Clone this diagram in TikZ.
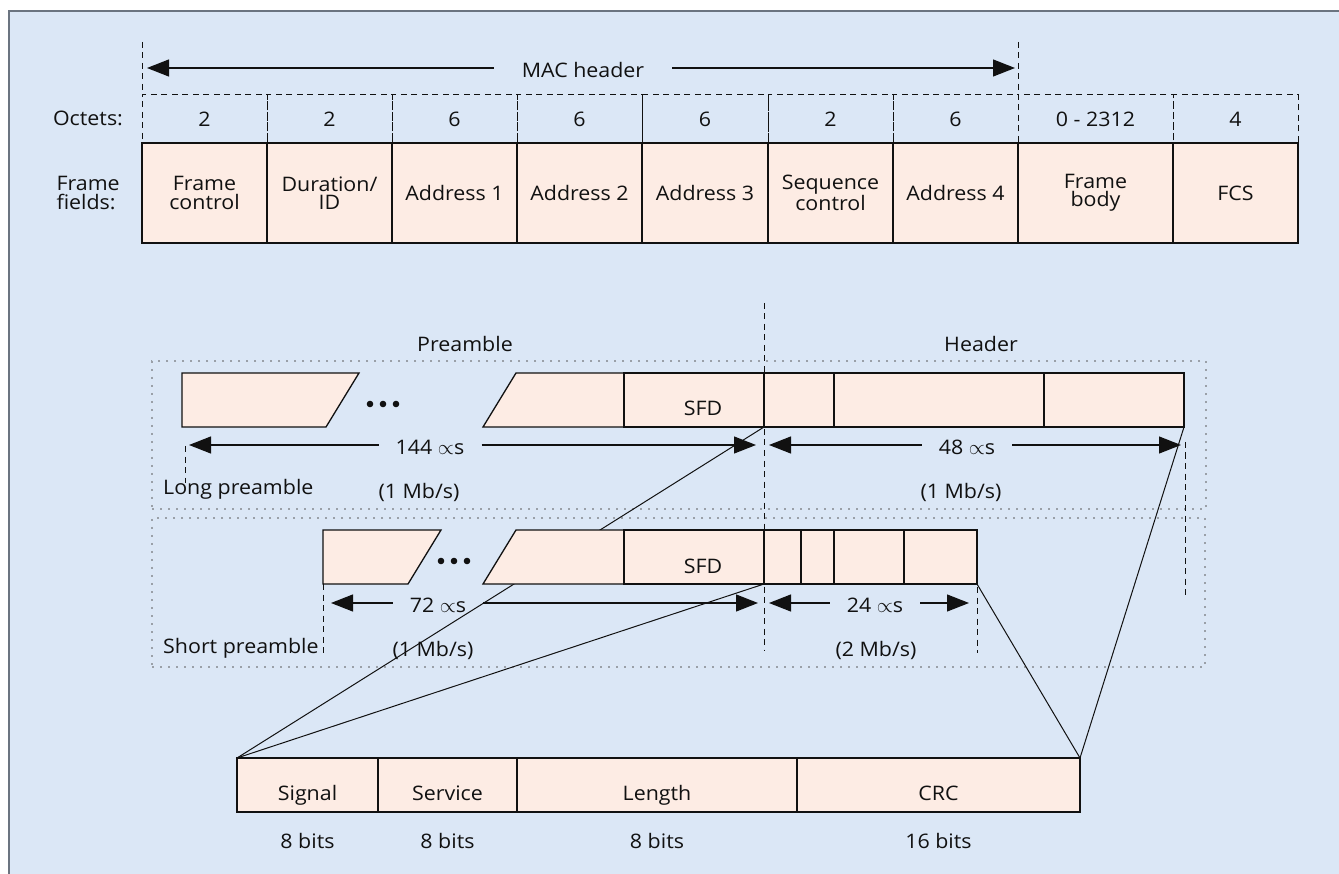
\documentclass[tikz,border=0pt]{standalone}
\usepackage{fontspec}
\setmainfont{Open Sans}[FakeStretch=1.07]
\usetikzlibrary{arrows.meta}
\definecolor{bg}{HTML}{DBE7F6}
\definecolor{cellfill}{HTML}{FDECE4}
\definecolor{framegray}{HTML}{6B7480}
\definecolor{dotgray}{HTML}{9AA0A8}
\definecolor{ink}{HTML}{111111}
\begin{document}
\begin{tikzpicture}[x=1pt,y=-1pt,
  every node/.style={font=\fontsize{20}{18.5}\selectfont, text=ink},
  cell/.style={draw=ink, line width=1.3pt, fill=cellfill, inner sep=0pt, outer sep=0pt, anchor=north west, align=center},
  octcell/.style={draw=ink, line width=1pt, dash pattern=on 6pt off 4.5pt, inner sep=0pt, outer sep=0pt, anchor=north west, minimum height=48pt},
  dashline/.style={draw=ink, line width=1pt, dash pattern=on 6pt off 4.5pt},
  dotbox/.style={draw=dotgray, line width=1.2pt, dash pattern=on 2pt off 6pt, inner sep=0pt, outer sep=0pt, anchor=north west},
  shapefill/.style={draw=ink, line width=1.3pt, fill=cellfill},
  bigarrow/.style={draw=ink, line width=1.2pt, -{Triangle[length=22pt,width=17pt]}},
  lbl/.style={inner xsep=17pt, inner ysep=0pt},
  baselbl/.style={anchor=base, inner sep=0pt},
  fan/.style={draw=ink, line width=1pt}
]
\useasboundingbox (0,0) rectangle (1339,874);
\fill[white] (0,0) rectangle (1339,874);
\fill[bg] (8,10) rectangle (1339,874);
\draw[framegray, line width=2pt] (8.5,874) -- (8.5,10.7) -- (1339,10.7);

% ---------- MAC frame ----------
\node[baselbl] (octl) at (88,126) {Octets:};
\node[align=left, anchor=west] (ffl) at (53,193) {Frame\\fields:};

\node[octcell, minimum width=125pt] (o1) at (142,95) {2};
\node[octcell, minimum width=125pt] (o2) at (267,95) {2};
\node[octcell, minimum width=125pt] (o3) at (392,95) {6};
\node[octcell, minimum width=125pt] (o4) at (517,95) {6};
\node[octcell, minimum width=126pt] (o5) at (642,95) {6};
\node[octcell, minimum width=125pt] (o6) at (768,95) {2};
\node[octcell, minimum width=125pt] (o7) at (893,95) {6};
\node[octcell, minimum width=155pt] (o8) at (1018,95) {0 - 2312};
\node[octcell, minimum width=125pt] (o9) at (1173,95) {4};

\node[cell, minimum width=125pt, minimum height=100pt] (f1) at (142,143) {Frame\\control};
\node[cell, minimum width=125pt, minimum height=100pt] (f2) at (267,143) {Duration/\\ID};
\node[cell, minimum width=125pt, minimum height=100pt] (f3) at (392,143) {Address 1};
\node[cell, minimum width=125pt, minimum height=100pt] (f4) at (517,143) {Address 2};
\node[cell, minimum width=126pt, minimum height=100pt] (f5) at (642,143) {Address 3};
\node[cell, minimum width=125pt, minimum height=100pt] (f6) at (768,143) {Sequence\\control};
\node[cell, minimum width=125pt, minimum height=100pt] (f7) at (893,143) {Address 4};
\node[cell, minimum width=155pt, minimum height=100pt] (f8) at (1018,143) {Frame\\body};
\node[cell, minimum width=125pt, minimum height=100pt] (f9) at (1173,143) {FCS};

\coordinate (macLt) at (142,42);
\coordinate (macRt) at (1018,42);
\draw[dashline] (macLt) -- (o1.north west);
\draw[dashline] (macRt) -- (o8.north west);
\coordinate (macLtip) at (147,68);
\coordinate (macRtip) at (1015,68);
\node[lbl, inner xsep=28pt] (mac) at (583,70) {MAC header};
\draw[bigarrow] (mac.west |- macLtip) -- (macLtip);
\draw[bigarrow] (mac.east |- macRtip) -- (macRtip);

% ---------- PLCP ----------
\node (pre) at (465,344) {Preamble};
\node (hdr) at (981,344) {Header};
\node[dotbox, minimum width=1054pt, minimum height=148pt] (lbox) at (152,361) {};
\node[dotbox, minimum width=1053pt, minimum height=149pt] (sbox) at (152,518) {};

\coordinate (cTop) at (764,303);
\coordinate (cBot) at (764,650);
\draw[dashline] (cTop) -- (cBot);

% long preamble row
\filldraw[shapefill] (182,373) -- (359,373) -- (326,427) -- (182,427) -- cycle;
\fill[ink] (370,404) circle (3.3pt) (383,404) circle (3.3pt) (396,404) circle (3.3pt);
\filldraw[shapefill] (483,427) -- (516,373) -- (624,373) -- (624,427) -- cycle;
\node[cell, minimum width=140pt, minimum height=54pt] (lsfd) at (624,373) {};
\node[baselbl] (lsfdt) at (703,416) {SFD};
\node[cell, minimum width=70pt, minimum height=54pt] (lh1) at (764,373) {};
\node[cell, minimum width=210pt, minimum height=54pt] (lh2) at (834,373) {};
\node[cell, minimum width=140pt, minimum height=54pt] (lh3) at (1044,373) {};

\coordinate (lpT) at (185,446);
\coordinate (lpB) at (185,483);
\draw[dashline] (lpT) -- (lpB);
\coordinate (lhT) at (1185,442);
\coordinate (lhB) at (1185,596);
\draw[dashline] (lhT) -- (lhB);

\coordinate (l144a) at (189,445);
\coordinate (l144b) at (756,445);
\node[lbl] (t144) at (430,447) {144 $\propto$s};
\draw[bigarrow] (t144.west |- l144a) -- (l144a);
\draw[bigarrow] (t144.east |- l144b) -- (l144b);
\coordinate (l48a) at (769,445);
\coordinate (l48b) at (1181,445);
\node[lbl] (t48) at (967,447) {48 $\propto$s};
\draw[bigarrow] (t48.west |- l48a) -- (l48a);
\draw[bigarrow] (t48.east |- l48b) -- (l48b);

\node[anchor=base west, inner xsep=0pt] (lpl) at (163,494) {Long preamble};
\node[baselbl] (lr1) at (419,498) {(1 Mb/s)};
\node[baselbl] (lr2) at (961,498) {(1 Mb/s)};

% bottom PLCP header
\node[cell, minimum width=141pt, minimum height=54pt] (sig) at (237,758) {};
\node[cell, minimum width=139pt, minimum height=54pt] (ser) at (378,758) {};
\node[cell, minimum width=280pt, minimum height=54pt] (len) at (517,758) {};
\node[cell, minimum width=283pt, minimum height=54pt] (crc) at (797,758) {};
\node[baselbl] (sigt) at (sig.center |- 0,800) {Signal};
\node[baselbl] (sert) at (ser.center |- 0,800) {Service};
\node[baselbl] (lent) at (len.center |- 0,800) {Length};
\node[baselbl] (crct) at (crc.center |- 0,800) {CRC};
\node[baselbl] (sigb) at (sig.center |- 0,848) {8 bits};
\node[baselbl] (serb) at (ser.center |- 0,848) {8 bits};
\node[baselbl] (lenb) at (len.center |- 0,848) {8 bits};
\node[baselbl] (crcb) at (crc.center |- 0,848) {16 bits};

% fan lines (long) drawn under short row
\draw[fan] (lsfd.south east) -- (sig.north west);
\draw[fan] (lh3.south east) -- (crc.north east);

% short preamble row
\filldraw[shapefill] (323,530) -- (441,530) -- (408,584) -- (323,584) -- cycle;
\fill[ink] (441,561) circle (3.3pt) (454,561) circle (3.3pt) (467,561) circle (3.3pt);
\filldraw[shapefill] (483,584) -- (516,530) -- (624,530) -- (624,584) -- cycle;
\node[cell, minimum width=140pt, minimum height=54pt] (ssfd) at (624,530) {};
\node[baselbl] (ssfdt) at (703,573) {SFD};
\node[cell, minimum width=37pt, minimum height=54pt] (sh1) at (764,530) {};
\node[cell, minimum width=33pt, minimum height=54pt] (sh2) at (801,530) {};
\node[cell, minimum width=70pt, minimum height=54pt] (sh3) at (834,530) {};
\node[cell, minimum width=73pt, minimum height=54pt] (sh4) at (904,530) {};

\coordinate (spT) at (323,584);
\coordinate (spB) at (323,653);
\draw[dashline] (spT) -- (spB);
\coordinate (shT) at (977,587);
\coordinate (shB) at (977,653);
\draw[dashline] (shT) -- (shB);

\coordinate (s72a) at (331,603);
\coordinate (s72b) at (758,603);
\node[lbl] (t72) at (438,605) {72 $\propto$s};
\draw[bigarrow] (t72.west |- s72a) -- (s72a);
\draw[bigarrow] (t72.east |- s72b) -- (s72b);
\coordinate (s24a) at (769,603);
\coordinate (s24b) at (969,603);
\node[lbl] (t24) at (875,605) {24 $\propto$s};
\draw[bigarrow] (t24.west |- s24a) -- (s24a);
\draw[bigarrow] (t24.east |- s24b) -- (s24b);

\node[anchor=base west, inner xsep=0pt] (spl) at (163,653) {Short preamble};
\node[baselbl] (sr1) at (433,656) {(1 Mb/s)};
\node[baselbl] (sr2) at (876,656) {(2 Mb/s)};

\draw[fan] (ssfd.south east) -- (sig.north west);
\draw[fan] (sh4.south east) -- (crc.north east);
\end{tikzpicture}
\end{document}
